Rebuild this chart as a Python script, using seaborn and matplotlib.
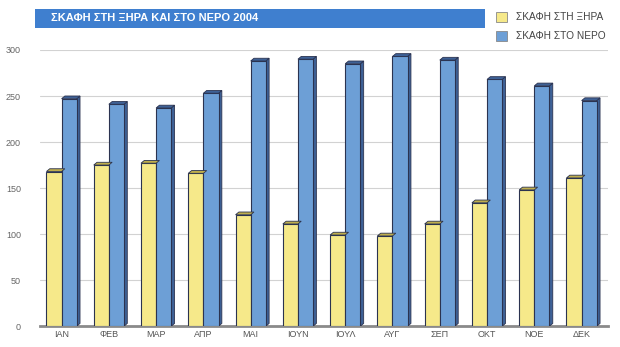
import matplotlib
matplotlib.use("Agg")
import matplotlib.pyplot as plt
from matplotlib.patches import Polygon, Rectangle
import seaborn as sns
import pandas as pd

# Monthly counts of boats stored on land and moored in water, 2004
months = ["ΙΑΝ", "ΦΕΒ", "ΜΑΡ", "ΑΠΡ", "ΜΑΙ", "ΙΟΥΝ", "ΙΟΥΛ", "ΑΥΓ", "ΣΕΠ", "ΟΚΤ", "ΝΟΕ", "ΔΕΚ"]
on_land = [168, 175, 177, 166, 121, 111, 99, 98, 111, 134, 148, 161]
in_water = [247, 241, 237, 253, 288, 290, 285, 293, 289, 268, 261, 245]
series_names = ["ΣΚΑΦΗ ΣΤΗ ΞΗΡΑ", "ΣΚΑΦΗ ΣΤΟ ΝΕΡΟ"]
title = "ΣΚΑΦΗ ΣΤΗ ΞΗΡΑ ΚΑΙ ΣΤΟ ΝΕΡΟ 2004"
y_ticks = [0, 50, 100, 150, 200, 250, 300]

df = pd.DataFrame({
    "month": months * 2,
    "value": on_land + in_water,
    "series": [series_names[0]] * len(months) + [series_names[1]] * len(months),
})

sns.set_theme(style="white")
plt.rcParams["font.family"] = ["Liberation Sans", "DejaVu Sans"]

face_colors = ["#f6e98a", "#6d9fd6"]
side_colors = ["#bfae4c", "#3e6196"]
edge_color = "#2b3350"

fig = plt.figure(figsize=(6.2, 3.47), dpi=100)
ax = fig.add_axes([0.065, 0.06, 0.915, 0.796])

sns.barplot(data=df, x="month", y="value", hue="series", order=months,
            hue_order=series_names, palette=face_colors, saturation=1,
            width=0.64, dodge=True, edgecolor=edge_color, linewidth=0.8,
            ax=ax, legend=False, zorder=3)

# give each bar a shaded side face and top for a block look
depth_x = 0.07
depth_y = 3.0
for i, container in enumerate(ax.containers):
    for bar in container:
        x0 = bar.get_x()
        w = bar.get_width()
        h = bar.get_height()
        side = Polygon([[x0 + w, 0], [x0 + w + depth_x, depth_y],
                        [x0 + w + depth_x, h + depth_y], [x0 + w, h]],
                       closed=True, facecolor=side_colors[i],
                       edgecolor=edge_color, linewidth=0.6, zorder=2.9)
        top = Polygon([[x0, h], [x0 + depth_x, h + depth_y],
                       [x0 + w + depth_x, h + depth_y], [x0 + w, h]],
                      closed=True, facecolor=side_colors[i],
                      edgecolor=edge_color, linewidth=0.6, zorder=3.1)
        ax.add_patch(side)
        ax.add_patch(top)

ax.set_ylim(0, 300)
ax.set_xlim(-0.45, len(months) - 0.45)
ax.set_yticks(y_ticks)
ax.set_yticklabels([str(v) for v in y_ticks], fontsize=6.5, color="#666666")
ax.tick_params(axis="x", labelsize=6.5, labelcolor="#555555", length=0, pad=3)
ax.tick_params(axis="y", length=0, pad=14)
ax.set_xlabel("")
ax.set_ylabel("")
ax.yaxis.grid(True, color="#d2d2d2", linewidth=0.8, zorder=0)
ax.set_axisbelow(True)
for s in ["top", "right", "left"]:
    ax.spines[s].set_visible(False)
ax.spines["bottom"].set_color("#8a8a8a")
ax.spines["bottom"].set_linewidth(2.0)

# title band
fig.patches.append(Rectangle((0.057, 0.92), 0.725, 0.055, transform=fig.transFigure,
                             facecolor="#3f7fcf", edgecolor="none"))
fig.text(0.082, 0.947, title, color="white", fontsize=8, fontweight="bold",
         va="center", ha="left")

# legend
legend_y = [0.95, 0.895]
for i, name in enumerate(series_names):
    fig.patches.append(Rectangle((0.80, legend_y[i] - 0.014), 0.017, 0.03,
                                 transform=fig.transFigure, facecolor=face_colors[i],
                                 edgecolor="#888888", linewidth=0.6))
    fig.text(0.833, legend_y[i], name, fontsize=7.3, color="#444444",
             va="center", ha="left")

fig.savefig("out.png", dpi=100, facecolor="white")
